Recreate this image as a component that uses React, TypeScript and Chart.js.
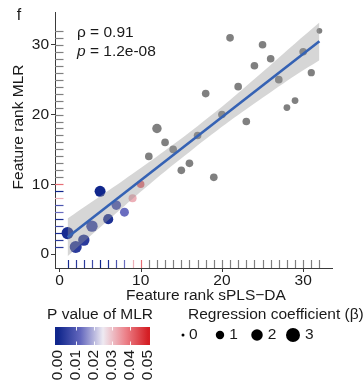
import React, { useEffect, useRef } from "react";
import { Chart, registerables } from "chart.js";

Chart.register(...registerables);

// ---------- data ----------
const rankSPLSDA = [1, 2, 3, 4, 5, 6, 7, 8, 9, 10, 11, 12, 13, 14, 15, 16, 17, 18, 19, 20, 21, 22, 23, 24, 25, 26, 27, 28, 29, 30, 31, 32];
const rankMLR = [3, 1, 2, 4, 9, 5, 7, 6, 8, 10, 14, 18, 16, 15, 12, 13, 17, 23, 11, 20, 31, 24, 19, 27, 30, 28, 25, 21, 22, 29, 26, 32];
// null = not significant (drawn grey)
const pValueMLR: (number | null)[] = [0.001, 0.004, 0.004, 0.007, 0.0, 0.002, 0.009, 0.013, 0.032, 0.04,
  null, null, null, null, null, null, null, null, null, null, null, null, null, null, null, null, null, null, null, null, null, null];
const betaMLR = [2.2, 2.2, 1.95, 1.95, 1.8, 1.5, 1.3, 1.15, 0.9, 0.75,
  0.8, 1.3, 0.8, 0.8, 0.8, 0.8, 0.8, 0.8, 0.8, 0.8, 0.8, 0.8, 0.8, 0.8, 0.8, 0.8, 0.8, 0.6, 0.6, 0.8, 0.7, 0.4];

const fitX = [1, 32];
const fitY = [2.4, 30.5];
const bandX = [1, 4, 8, 12, 16.5, 21, 25, 29, 32];
const bandUpper = [5.1, 7.5, 10.7, 14.0, 17.9, 22.1, 26.1, 30.2, 33.2];
const bandLower = [-0.3, 2.8, 6.9, 10.9, 15.1, 19.1, 22.4, 25.6, 27.8];

const xTicks = [0, 10, 20, 30];
const yTicks = [0, 10, 20, 30];
const pTicks = [0.0, 0.01, 0.02, 0.03, 0.04, 0.05];
const pTickLabels = ["0.00", "0.01", "0.02", "0.03", "0.04", "0.05"];
const betaTicks = [0, 1, 2, 3];

const rhoLabel = "\u03c1 = 0.91";
const pLabelValue = " = 1.2e-08";
const panelTag = "f";
const xTitle = "Feature rank sPLS\u2212DA";
const yTitle = "Feature rank MLR";
const colorTitle = "P value of MLR";
const sizeTitle = "Regression coefficient (\u03b2)";

// ---------- styles ----------
const FONT = "'Liberation Sans', Arial, Helvetica, sans-serif";
const TXT = "#1a1a1a";
const AXIS = "#3a3a3a";
const GREY = "#808080";
const stops: [number, [number, number, number]][] = [
  [0.0, [16, 38, 140]],
  [0.0125, [100, 104, 190]],
  [0.025, [238, 234, 242]],
  [0.0375, [236, 130, 138]],
  [0.05, [212, 30, 36]],
];
function pColor(p: number | null): string {
  if (p === null) return GREY;
  for (let i = 0; i < stops.length - 1; i++) {
    const [a, ca] = stops[i];
    const [b, cb] = stops[i + 1];
    if (p <= b) {
      const t = Math.max(0, (p - a) / (b - a));
      const c = ca.map((v, k) => Math.round(v + (cb[k] - v) * t));
      return `rgb(${c[0]},${c[1]},${c[2]})`;
    }
  }
  return "rgb(212,30,36)";
}
function betaRadius(b: number): number {
  return Math.sqrt(2.25 + 15.5 * b);
}

const overlay = {
  id: "overlay",
  beforeDatasetsDraw(chart: any) {
    const ctx = chart.ctx;
    const xs = chart.scales.x;
    const ys = chart.scales.y;
    const ca = chart.chartArea;
    ctx.save();
    ctx.lineWidth = 1.2;
    const rugX = 8;
    const rugY = 8.5;
    rankSPLSDA.forEach((v, i) => {
      ctx.strokeStyle = pColor(pValueMLR[i]);
      const px = Math.round(xs.getPixelForValue(v)) + 0.5;
      ctx.beginPath();
      ctx.moveTo(px, ca.bottom);
      ctx.lineTo(px, ca.bottom - rugX);
      ctx.stroke();
      const py = Math.round(ys.getPixelForValue(rankMLR[i])) + 0.5;
      ctx.beginPath();
      ctx.moveTo(ca.left, py);
      ctx.lineTo(ca.left + rugY, py);
      ctx.stroke();
    });
    ctx.restore();
  },
  afterDraw(chart: any) {
    const ctx = chart.ctx;
    const xs = chart.scales.x;
    const ca = chart.chartArea;
    ctx.save();
    // x-axis tick marks and labels
    ctx.strokeStyle = AXIS;
    ctx.lineWidth = 1;
    ctx.fillStyle = TXT;
    ctx.font = `15.5px ${FONT}`;
    ctx.textAlign = "center";
    ctx.textBaseline = "middle";
    xTicks.forEach((v) => {
      const px = Math.round(xs.getPixelForValue(v)) + 0.5;
      ctx.beginPath();
      ctx.moveTo(px, ca.bottom);
      ctx.lineTo(px, ca.bottom + 4);
      ctx.stroke();
      ctx.fillText(String(v), xs.getPixelForValue(v), ca.bottom + 13);
    });
    // panel tag
    ctx.font = `16px ${FONT}`;
    ctx.fillText(panelTag, 19, 16);
    // correlation text
    ctx.font = `15.5px ${FONT}`;
    ctx.textAlign = "left";
    ctx.fillText(rhoLabel, 77, 33);
    ctx.font = `italic 15.5px ${FONT}`;
    ctx.fillText("p", 77, 52);
    const w = ctx.measureText("p").width;
    ctx.font = `15.5px ${FONT}`;
    ctx.fillText(pLabelValue, 77 + w, 52);
    // axis titles
    ctx.textAlign = "center";
    ctx.fillText(xTitle, 206, 296);
    ctx.save();
    ctx.translate(19, 127);
    ctx.rotate(-Math.PI / 2);
    ctx.fillText(yTitle, 0, 0);
    ctx.restore();

    // colour legend
    ctx.textAlign = "left";
    ctx.fillText(colorTitle, 47, 315);
    const bx0 = 55, bx1 = 150, by0 = 327, by1 = 345;
    const tx = (p: number) => 58 + (p / 0.05) * 90;
    const g = ctx.createLinearGradient(tx(0), 0, tx(0.05), 0);
    stops.forEach(([p, c]) => g.addColorStop(p / 0.05, `rgb(${c[0]},${c[1]},${c[2]})`));
    ctx.fillStyle = g;
    ctx.fillRect(bx0, by0, bx1 - bx0, by1 - by0);
    ctx.strokeStyle = "rgba(255,255,255,0.9)";
    ctx.lineWidth = 1;
    pTicks.forEach((p, i) => {
      if (i === 0 || i === pTicks.length - 1) return;
      const x = Math.round(tx(p)) + 0.5;
      ctx.beginPath();
      ctx.moveTo(x, by0);
      ctx.lineTo(x, by0 + 3.5);
      ctx.moveTo(x, by1);
      ctx.lineTo(x, by1 - 3.5);
      ctx.stroke();
    });
    ctx.fillStyle = TXT;
    pTicks.forEach((p, i) => {
      ctx.save();
      ctx.translate(tx(p), 350);
      ctx.rotate(-Math.PI / 2);
      ctx.textAlign = "right";
      ctx.textBaseline = "middle";
      ctx.fillText(pTickLabels[i], 0, 0);
      ctx.restore();
    });

    // size legend
    ctx.textAlign = "left";
    ctx.textBaseline = "middle";
    ctx.fillText(sizeTitle, 188, 315);
    const dotX = [183, 220, 257, 293];
    betaTicks.forEach((b, i) => {
      const r = betaRadius(b);
      ctx.fillStyle = "#000";
      ctx.beginPath();
      ctx.arc(dotX[i], 335, r, 0, Math.PI * 2);
      ctx.fill();
      ctx.fillStyle = TXT;
      ctx.fillText(String(b), dotX[i] + 6 + (i === 0 ? 0 : r - 1), 335);
    });
    ctx.restore();
  },
};

export default function App() {
  const ref = useRef<HTMLCanvasElement | null>(null);
  useEffect(() => {
    if (!ref.current) return;
    const points = rankSPLSDA.map((x, i) => ({ x, y: rankMLR[i] }));
    const chart = new Chart(ref.current, {
      type: "scatter",
      data: {
        datasets: [
          {
            type: "scatter",
            data: points,
            pointRadius: betaMLR.map(betaRadius),
            pointBackgroundColor: pValueMLR.map(pColor),
            pointBorderWidth: 0,
            pointHoverRadius: betaMLR.map(betaRadius),
            order: 3,
          } as any,
          {
            type: "line",
            data: bandX.map((x, i) => ({ x, y: bandLower[i] })),
            borderWidth: 0,
            pointRadius: 0,
            fill: false,
            tension: 0.3,
            order: 2,
          } as any,
          {
            type: "line",
            data: bandX.map((x, i) => ({ x, y: bandUpper[i] })),
            borderWidth: 0,
            pointRadius: 0,
            fill: "-1",
            backgroundColor: "rgba(153,153,153,0.4)",
            tension: 0.3,
            order: 2,
          } as any,
          {
            type: "line",
            data: fitX.map((x, i) => ({ x, y: fitY[i] })),
            borderColor: "#3562b4",
            borderWidth: 2.6,
            pointRadius: 0,
            fill: false,
            order: 1,
          } as any,
        ],
      },
      options: {
        animation: false,
        responsive: true,
        maintainAspectRatio: false,
        events: [],
        layout: { padding: { left: 0, top: 12, right: 31, bottom: 0 } },
        plugins: { legend: { display: false }, tooltip: { enabled: false } },
        scales: {
          x: {
            type: "linear",
            min: -0.55,
            max: 33.55,
            grid: { display: false },
            border: { display: true, color: AXIS, width: 1 },
            ticks: { display: false },
            afterBuildTicks: (s: any) => {
              s.ticks = xTicks.map((v) => ({ value: v }));
            },
            afterFit: (s: any) => {
              s.height = 113;
            },
          },
          y: {
            type: "linear",
            min: -2,
            max: 34.7,
            grid: { drawOnChartArea: false, drawTicks: true, tickLength: 4, color: AXIS },
            border: { display: true, color: AXIS, width: 1 },
            ticks: { font: { family: FONT, size: 15.5 }, color: TXT, padding: 2 },
            afterBuildTicks: (s: any) => {
              s.ticks = yTicks.map((v) => ({ value: v }));
            },
            afterFit: (s: any) => {
              s.width = 55;
            },
          },
        },
      } as any,
      plugins: [overlay],
    });
    return () => chart.destroy();
  }, []);
  return (
    <div style={{ position: "fixed", left: 0, top: 0, width: 363, height: 381, background: "#fff" }}>
      <canvas ref={ref} />
    </div>
  );
}
